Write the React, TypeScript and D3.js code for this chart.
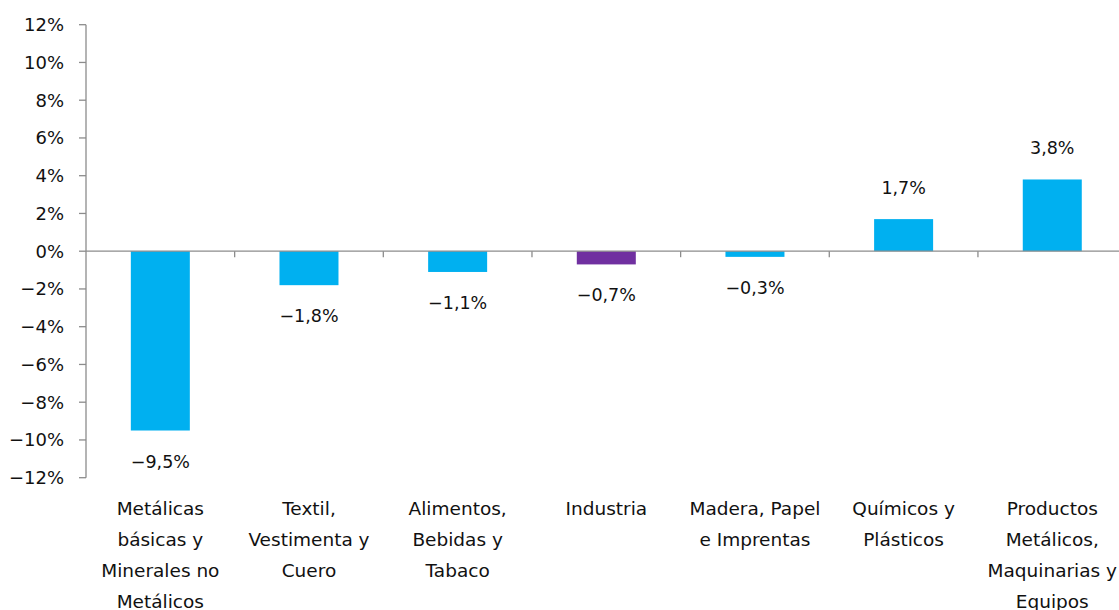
import React from "react";
import * as d3 from "d3";

const categories: string[][] = [
  ["Metálicas", "básicas y", "Minerales no", "Metálicos"],
  ["Textil,", "Vestimenta y", "Cuero"],
  ["Alimentos,", "Bebidas y", "Tabaco"],
  ["Industria"],
  ["Madera, Papel", "e Imprentas"],
  ["Químicos y", "Plásticos"],
  ["Productos", "Metálicos,", "Maquinarias y", "Equipos"],
];
const values: number[] = [-9.5, -1.8, -1.1, -0.7, -0.3, 1.7, 3.8];
const highlight: string = "Industria";
const yTicks: number[] = [-12, -10, -8, -6, -4, -2, 0, 2, 4, 6, 8, 10, 12];

const W = 1119;
const H = 610;
const FONT = "'DejaVu Sans', sans-serif";

export default function App() {
  const x = d3
    .scaleBand<number>()
    .domain(d3.range(categories.length))
    .range([86, 1126.6])
    .paddingInner(0)
    .paddingOuter(0);
  const y = d3.scaleLinear().domain([-12, 12]).range([477.7, 24.7]);
  const barW = 59;
  const fmt = (v: number) =>
    (v < 0 ? "−" : "") + Math.abs(v).toFixed(1).replace(".", ",") + "%";
  const axisColor = "#8c8c8c";

  return (
    <svg
      width={W}
      height={H}
      style={{ position: "absolute", left: 0, top: 0 }}
      fontFamily={FONT}
    >
      <rect width={W} height={H} fill="#fff" />
      {values.map((v, i) => {
        const cx = x(i)! + x.bandwidth() / 2;
        const isH = categories[i].join(" ") === highlight;
        return (
          <g key={i}>
            <rect
              x={cx - barW / 2}
              y={Math.min(y(v), y(0))}
              width={barW}
              height={Math.abs(y(v) - y(0))}
              fill={isH ? "#7030A0" : "#00B0F0"}
            />
            <text
              x={cx}
              y={v < 0 ? y(v) + 31 : y(v) - 31}
              textAnchor="middle"
              dominantBaseline="central"
              fontSize={17.5}
              fill="#111"
            >
              {fmt(v)}
            </text>
          </g>
        );
      })}
      {/* y axis */}
      <line x1={86} x2={86} y1={y(12)} y2={y(-12)} stroke={axisColor} strokeWidth={1.3} />
      {yTicks.map((t) => (
        <g key={t}>
          <line x1={79} x2={86} y1={y(t)} y2={y(t)} stroke={axisColor} strokeWidth={1.3} />
          <text
            x={64}
            y={y(t)}
            textAnchor="end"
            dominantBaseline="central"
            fontSize={18}
            fill="#111"
          >
            {fmt(t).replace(",0", "")}
          </text>
        </g>
      ))}
      {/* zero line */}
      <line x1={86} x2={W} y1={y(0)} y2={y(0)} stroke={axisColor} strokeWidth={1.3} />
      {d3.range(1, categories.length).map((i) => (
        <line
          key={i}
          x1={x(i)!}
          x2={x(i)!}
          y1={y(0)}
          y2={y(0) + 6}
          stroke={axisColor}
          strokeWidth={1.3}
        />
      ))}
      {categories.map((lines, i) => (
        <text
          key={i}
          x={x(i)! + x.bandwidth() / 2}
          y={515}
          textAnchor="middle"
          fontSize={18.5}
          fill="#111"
        >
          {lines.map((l, j) => (
            <tspan key={j} x={x(i)! + x.bandwidth() / 2} y={515 + j * 31}>
              {l}
            </tspan>
          ))}
        </text>
      ))}
    </svg>
  );
}
